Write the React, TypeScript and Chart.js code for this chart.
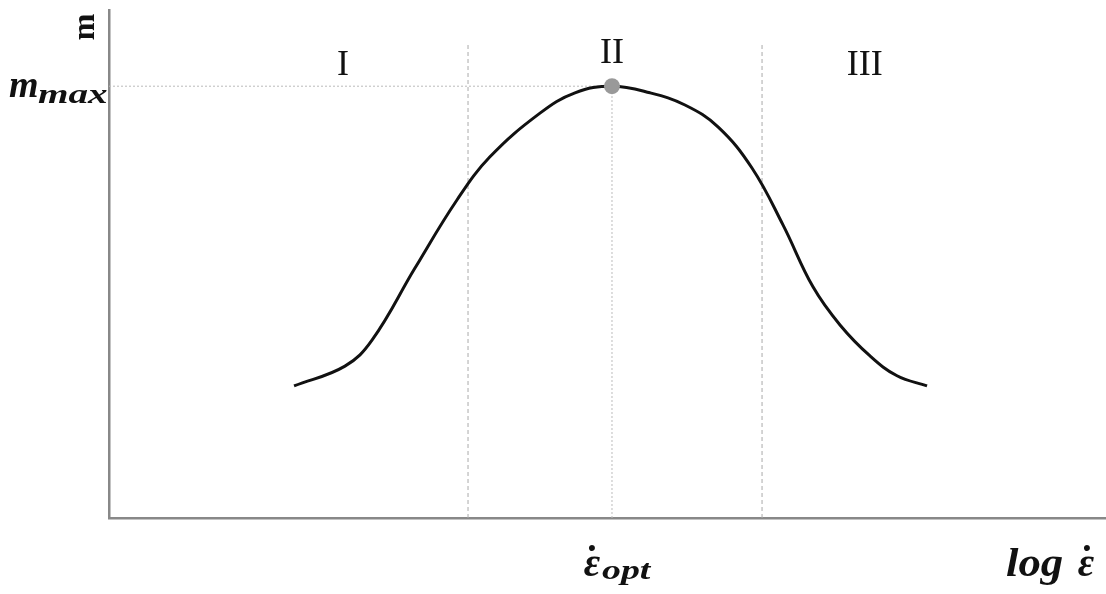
import React, { useEffect, useRef } from "react";
import { Chart, registerables } from "chart.js";

Chart.register(...registerables);

// curve: log strain rate (x) vs strain-rate sensitivity m (y)
const curveX = [1.856, 2.367, 2.638, 3.069, 3.49, 3.821, 4.323, 4.674, 5.045, 5.426, 5.777, 6.108, 6.449, 6.76, 7.061, 7.332, 7.633, 7.904, 8.205];
const curveY = [0.26, 0.299, 0.35, 0.492, 0.626, 0.711, 0.797, 0.837, 0.85, 0.837, 0.813, 0.77, 0.689, 0.577, 0.455, 0.38, 0.319, 0.28, 0.26];

const optX = 5.045;
const mMax = 0.85;
const regionBounds = [3.601, 6.55];
const regionTop = 0.937;
const regionLabels = ["I", "II", "III"];
const regionLabelX = [2.346, 5.045, 7.58];
const regionLabelY = [0.895, 0.92, 0.895];

function drawScaled(ctx: any, text: string, x: number, y: number, sx: number) {
  ctx.save();
  ctx.translate(x, y);
  ctx.scale(sx, 1);
  ctx.fillText(text, 0, 0);
  ctx.restore();
}

export default function App() {
  const ref = useRef<HTMLCanvasElement | null>(null);
  useEffect(() => {
    if (!ref.current) return;
    const textPlugin = {
      id: "texts",
      afterDraw(chart: any) {
        const ctx = chart.ctx;
        const xs = chart.scales.x;
        const ys = chart.scales.y;
        ctx.save();
        ctx.fillStyle = "#111";
        ctx.textAlign = "center";
        ctx.textBaseline = "alphabetic";
        ctx.font = '36px "Liberation Serif"';
        regionLabels.forEach((t, i) => {
          ctx.fillText(t, xs.getPixelForValue(regionLabelX[i]), ys.getPixelForValue(regionLabelY[i]) + 12);
        });
        // y-axis title rotated
        ctx.save();
        ctx.translate(xs.left - 23, ys.top + 17);
        ctx.rotate(-Math.PI / 2);
        ctx.font = 'bold 32px "Liberation Serif"';
        ctx.textBaseline = "middle";
        ctx.fillText("m", 0, 0);
        ctx.restore();
        // m_max
        const yMax = ys.getPixelForValue(mMax);
        ctx.textAlign = "left";
        ctx.font = 'bold italic 38px "Liberation Serif"';
        ctx.fillText("m", 9, yMax + 11);
        ctx.font = 'bold italic 27px "Liberation Serif"';
        drawScaled(ctx, "max", 38, yMax + 17, 1.45);
        // eps_opt
        const xo = xs.getPixelForValue(optX);
        ctx.font = 'bold italic 40px "Liberation Serif"';
        ctx.textAlign = "center";
        ctx.fillText("\u03B5", xo - 20, 576);
        ctx.font = 'bold 40px "Liberation Serif"';
        ctx.fillText("\u02D9", xo - 20, 573);
        ctx.textAlign = "left";
        ctx.font = 'bold italic 27px "Liberation Serif"';
        drawScaled(ctx, "opt", xo - 10, 579, 1.4);
        // log eps
        ctx.font = 'bold italic 40px "Liberation Serif"';
        drawScaled(ctx, "log", 1006, 576, 1.12);
        ctx.textAlign = "center";
        ctx.fillText("\u03B5", 1086, 576);
        ctx.font = 'bold 40px "Liberation Serif"';
        ctx.fillText("\u02D9", 1087, 573);
        ctx.restore();
      },
    };
    const chart = new Chart(ref.current, {
      type: "line",
      data: {
        datasets: [
          {
            data: curveX.map((x, i) => ({ x, y: curveY[i] })),
            borderColor: "#111",
            borderWidth: 3,
            pointRadius: 0,
            tension: 0.4,
            order: 1,
          },
          ...regionBounds.map((b) => ({
            data: [{ x: b, y: 0 }, { x: b, y: regionTop }],
            borderColor: "#aaa",
            borderWidth: 1,
            borderDash: [4, 3],
            pointRadius: 0,
            order: 3,
          })),
          {
            data: [{ x: optX, y: 0 }, { x: optX, y: mMax }],
            borderColor: "#bbb",
            borderWidth: 1,
            borderDash: [2, 2],
            pointRadius: 0,
            order: 3,
          },
          {
            data: [{ x: 0, y: mMax }, { x: optX, y: mMax }],
            borderColor: "#bbb",
            borderWidth: 1,
            borderDash: [2, 2],
            pointRadius: 0,
            order: 3,
          },
          {
            data: [{ x: optX, y: mMax }],
            showLine: false,
            pointRadius: 8,
            pointBackgroundColor: "#999",
            pointBorderColor: "#999",
            pointBorderWidth: 0,
            order: 0,
          },
        ] as any,
      },
      options: {
        animation: false,
        responsive: false,
        layout: { padding: { left: 109, right: 0, top: 10, bottom: 76 } },
        plugins: { legend: { display: false }, tooltip: { enabled: false } },
        scales: {
          x: {
            type: "linear",
            min: 0,
            max: 10,
            ticks: { display: false, padding: 0 },
            grid: { display: false, drawTicks: false },
            border: { display: true, color: "#888", width: 2.5 },
            afterFit: (s: any) => { s.height = 0; s.paddingLeft = 0; s.paddingRight = 0; },
          },
          y: {
            min: 0,
            max: 1,
            ticks: { display: false, padding: 0 },
            grid: { display: false, drawTicks: false },
            border: { display: true, color: "#888", width: 2.5 },
            afterFit: (s: any) => { s.width = 0; s.paddingTop = 0; s.paddingBottom = 0; },
          },
        },
      },
      plugins: [textPlugin],
    });
    return () => chart.destroy();
  }, []);
  return (
    <canvas
      ref={ref}
      width={1114}
      height={594}
      style={{ position: "fixed", left: 0, top: 0, width: 1114, height: 594 }}
    />
  );
}
